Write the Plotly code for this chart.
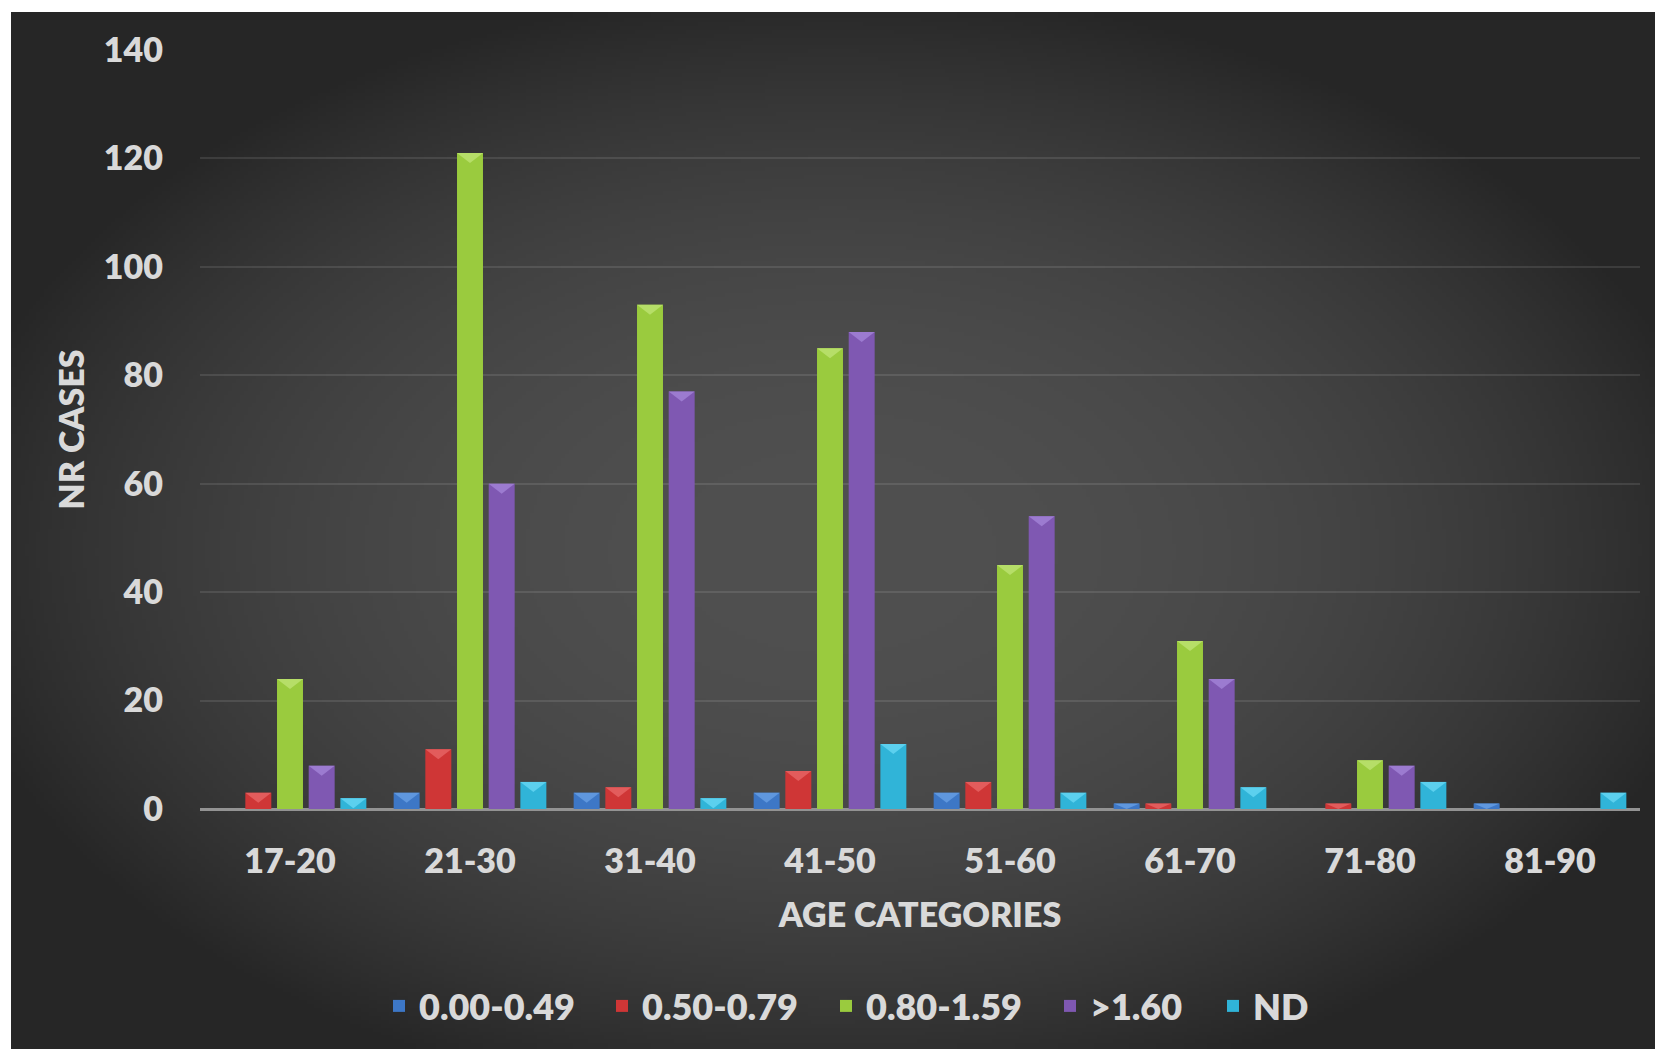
import base64
import struct
import zlib

import numpy as np
import plotly.graph_objects as go

# ---- data -------------------------------------------------------------
age_categories = ["17-20", "21-30", "31-40", "41-50", "51-60", "61-70", "71-80", "81-90"]

series_names = ["0.00-0.49", "0.50-0.79", "0.80-1.59", ">1.60", "ND"]

cases_000_049 = [0, 3, 3, 3, 3, 1, 0, 1]
cases_050_079 = [3, 11, 4, 7, 5, 1, 1, 0]
cases_080_159 = [24, 121, 93, 85, 45, 31, 9, 0]
cases_gt_160 = [8, 60, 77, 88, 54, 24, 8, 0]
cases_nd = [2, 5, 2, 12, 3, 4, 5, 3]

y_ticks = [0, 20, 40, 60, 80, 100, 120, 140]

# ---- styling ------------------------------------------------------------
series_values = [cases_000_049, cases_050_079, cases_080_159, cases_gt_160, cases_nd]
series_colors = ["#3d77c6", "#cf3636", "#9acb3e", "#7f58b2", "#30b4d8"]
bevel_colors = ["#5f97de", "#e25c5c", "#b6de68", "#9c7bd0", "#5cd0ee"]

W, H = 1655, 1049
M_L, M_R, M_T, M_B = 200, 15, 50, 240
BORDER_L, BORDER_T = 11, 12
TEXT = "#d9d9d9"
FONT = "Lato"
WEIGHT = 800
Y_MAX = 140
BARGAP, BARGROUPGAP = 0.12, 0.18
BEVEL_DEPTH = 10  # px

# left edge (px) of each legend entry along the bottom row
legend_left_px = [379, 602, 826, 1050, 1213]
legend_mid_y_px = 1006


def png_data_uri(rgb):
    """Encode an (h, w, 3) uint8 array as a PNG data URI."""
    h, w, _ = rgb.shape
    raw = b"".join(b"\x00" + rgb[r].tobytes() for r in range(h))

    def chunk(tag, data):
        body = tag + data
        return struct.pack(">I", len(data)) + body + struct.pack(">I", zlib.crc32(body) & 0xFFFFFFFF)

    png = b"\x89PNG\r\n\x1a\n"
    png += chunk(b"IHDR", struct.pack(">IIBBBBB", w, h, 8, 2, 0, 0, 0))
    png += chunk(b"IDAT", zlib.compress(raw, 9))
    png += chunk(b"IEND", b"")
    return "data:image/png;base64," + base64.b64encode(png).decode()


# radial dark-grey backdrop, lighter toward the middle
gw, gh = 420, 264
xs = np.linspace(-1.0, 1.0, gw)
ys = np.linspace(-1.04, 0.96, gh)
u, v = np.meshgrid(xs, ys)
d = np.sqrt(u ** 2 + v ** 2)
shade = 80.0 - 42.0 * np.clip(d / 1.1, 0.0, 1.0) ** 2.2
shade = np.clip(shade, 36, 90).astype(np.uint8)
backdrop = np.dstack([shade, shade, shade])

plot_w = W - M_L - M_R
plot_h = H - M_T - M_B

fig = go.Figure()

legend_ids = ["legend"] + [f"legend{i}" for i in range(2, len(series_names) + 1)]

for name, vals, col, lid in zip(series_names, series_values, series_colors, legend_ids):
    fig.add_trace(
        go.Bar(
            name=name,
            x=age_categories,
            y=vals,
            legend=lid,
            marker=dict(color=col, line=dict(width=0)),
        )
    )

# bevelled bar tops: a light wedge sitting on the top edge of every bar
n_series = len(series_names)
slot_px = plot_w / len(age_categories) * (1 - BARGAP) / n_series
half_bar = slot_px * (1 - BARGROUPGAP) / 2
px_per_unit = plot_h / Y_MAX
for k, (vals, light) in enumerate(zip(series_values, bevel_colors)):
    dx = (k - (n_series - 1) / 2) * slot_px
    for cat, val in zip(age_categories, vals):
        if val <= 0:
            continue
        depth = min(BEVEL_DEPTH, val * px_per_unit)
        fig.add_shape(
            type="path",
            xref="x",
            yref="y",
            xsizemode="pixel",
            ysizemode="pixel",
            xanchor=cat,
            yanchor=val,
            path=f"M{dx - half_bar:.2f},0 L{dx + half_bar:.2f},0 L{dx:.2f},{-depth:.2f} Z",
            fillcolor=light,
            line=dict(width=0),
            layer="above",
        )

fig.add_layout_image(
    dict(
        source=png_data_uri(backdrop),
        xref="paper",
        yref="paper",
        x=(BORDER_L - M_L) / plot_w,
        y=1 + (M_T - BORDER_T) / plot_h,
        sizex=(W - BORDER_L) / plot_w,
        sizey=(H - BORDER_T) / plot_h,
        xanchor="left",
        yanchor="top",
        sizing="stretch",
        layer="below",
    )
)

legend_style = dict(
    orientation="h",
    xanchor="left",
    yanchor="middle",
    y=-(legend_mid_y_px - (H - M_B)) / plot_h,
    font=dict(family=FONT, size=36, color=TEXT, weight=WEIGHT),
    bgcolor="rgba(0,0,0,0)",
    borderwidth=0,
)
legend_layout = {
    lid: dict(legend_style, x=(px - M_L) / plot_w) for lid, px in zip(legend_ids, legend_left_px)
}

fig.update_layout(
    width=W,
    height=H,
    margin=dict(l=M_L, r=M_R, t=M_T, b=M_B, pad=0),
    paper_bgcolor="white",
    plot_bgcolor="rgba(0,0,0,0)",
    barmode="group",
    bargap=BARGAP,
    bargroupgap=BARGROUPGAP,
    font=dict(family=FONT, color=TEXT, size=34, weight=WEIGHT),
    showlegend=True,
    xaxis=dict(
        title=dict(text="AGE CATEGORIES", font=dict(size=34, family=FONT, weight=WEIGHT), standoff=24),
        tickfont=dict(size=34, family=FONT, weight=WEIGHT),
        showgrid=False,
        showline=False,
        ticks="",
        ticklabelstandoff=29,
        fixedrange=True,
    ),
    yaxis=dict(
        title=dict(text="NR CASES", font=dict(size=34, family=FONT, weight=WEIGHT), standoff=8),
        range=[0, Y_MAX],
        tickvals=y_ticks,
        tickfont=dict(size=34, family=FONT, weight=WEIGHT),
        showgrid=True,
        gridcolor="rgba(255,255,255,0.10)",
        gridwidth=2,
        zeroline=True,
        zerolinecolor="#939393",
        zerolinewidth=2.5,
        ticks="",
        ticklabelstandoff=36,
        fixedrange=True,
    ),
    **legend_layout,
)

fig.write_html("out.html")
